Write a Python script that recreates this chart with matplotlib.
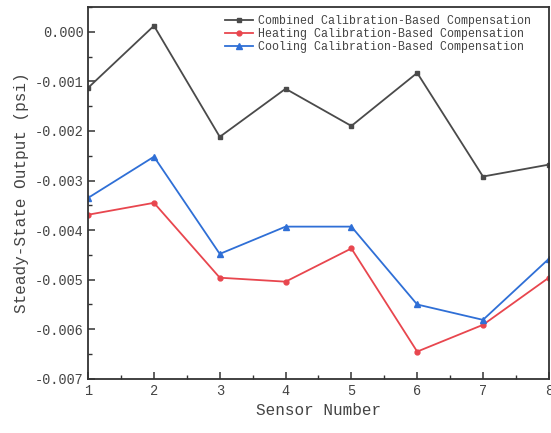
import numpy as np
import matplotlib
matplotlib.use('Agg')
import matplotlib.pyplot as plt
from matplotlib.ticker import MultipleLocator, FormatStrFormatter

# Sensor numbers and steady-state outputs (psi)
sensors = [1, 2, 3, 4, 5, 6, 7, 8]
combined = [-0.00113, 0.00012, -0.00212, -0.00115, -0.00190, -0.00083, -0.00292, -0.00268]
heating = [-0.00369, -0.00345, -0.00496, -0.00504, -0.00437, -0.00645, -0.00591, -0.00496]
cooling = [-0.00335, -0.00252, -0.00448, -0.00393, -0.00393, -0.00550, -0.00581, -0.00458]

labels = ["Combined Calibration-Based Compensation",
          "Heating Calibration-Based Compensation",
          "Cooling Calibration-Based Compensation"]

plt.rcParams['font.family'] = ['Liberation Mono', 'DejaVu Sans']

fig = plt.figure(figsize=(5.51, 4.33), dpi=100)
ax = fig.add_axes([0.16, 0.125, 0.836, 0.859])

ax.plot(sensors, combined, color='#4a4a4a', marker='s', markersize=3.5, lw=1.3, label=labels[0])
ax.plot(sensors, heating, color='#e8464e', marker='o', markersize=3.5, lw=1.3, label=labels[1])
ax.plot(sensors, cooling, color='#2f6fd6', marker='^', markersize=3.8, lw=1.3, label=labels[2])

ax.set_xlim(1, 8)
ax.set_ylim(-0.007, 0.0005)
ax.xaxis.set_major_locator(MultipleLocator(1))
ax.xaxis.set_minor_locator(MultipleLocator(0.5))
ax.yaxis.set_major_locator(MultipleLocator(0.001))
ax.yaxis.set_minor_locator(MultipleLocator(0.0005))
ax.yaxis.set_major_formatter(FormatStrFormatter('%.3f'))

ax.tick_params(which='both', direction='in', top=False, right=False, colors='#333333', labelcolor='#444444')
ax.tick_params(which='major', length=5, width=1.1, labelsize=9.8)
ax.tick_params(which='minor', length=3, width=1.0)
for s in ax.spines.values():
    s.set_linewidth(1.3)
    s.set_color('#333333')

ax.set_xlabel("Sensor Number", fontsize=11.5, color='#444444', labelpad=4)
ax.set_ylabel("Steady-State Output (psi)", fontsize=11.5, color='#444444', labelpad=4)

leg = ax.legend(loc='upper right', bbox_to_anchor=(0.98, 1.0), frameon=False, fontsize=8.4,
                handlelength=2.4, handletextpad=0.5, labelspacing=0.1, borderaxespad=0.3)
for t in leg.get_texts():
    t.set_color('#444444')

fig.savefig('out.png', dpi=100)
